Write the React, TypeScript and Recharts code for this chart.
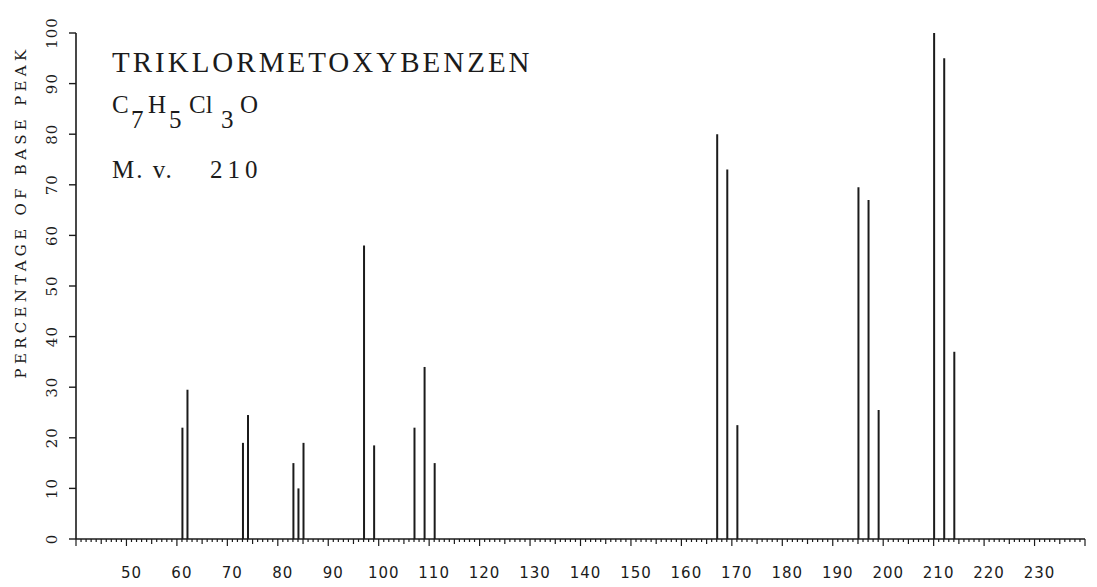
import { BarChart, Bar, XAxis, YAxis } from 'recharts';

// m/z of each peak and its height in % of the base peak
const massNumbers = [61, 62, 73, 74, 83, 84, 85, 97, 99, 107, 109, 111, 167, 169, 171, 195, 197, 199, 210, 212, 214];
const intensities = [22, 29.5, 19, 24.5, 15, 10, 19, 58, 18.5, 22, 34, 15, 80, 73, 22.5, 69.5, 67, 25.5, 100, 95, 37];

const massLabels = [50, 60, 70, 80, 90, 100, 110, 120, 130, 140, 150, 160, 170, 180, 190, 200, 210, 220, 230];
const percentLabels = [0, 10, 20, 30, 40, 50, 60, 70, 80, 90, 100];
// one small tick per mass unit along the bottom axis
const massTicks = Array.from({ length: 201 }, (_, i) => 40 + i);

const compoundName = 'TRIKLORMETOXYBENZEN';
const molWeightLabel = 'M. v.';
const molWeight = '210';
const yTitle = 'PERCENTAGE OF BASE PEAK';
// formula pieces: [text, isSubscript, x]
const formulaParts: [string, boolean, number][] = [
  ['C', false, 112],
  ['7', true, 131],
  ['H', false, 148],
  ['5', true, 169],
  ['Cl', false, 189],
  ['3', true, 221],
  ['O', false, 240],
];

const data = massNumbers.map((m, i) => ({ mass: m, intensity: intensities[i] }));

const INK = '#1b1b1b';
const W = 1097;
const H = 587;

const MassTick = (props: any) => {
  const { x, y, payload } = props;
  const v = payload.value as number;
  const len = v % 10 === 0 ? 7 : v % 5 === 0 ? 5 : 3;
  return (
    <g>
      <line x1={x} y1={y} x2={x} y2={y + len} stroke={INK} strokeWidth={1.2} />
      {massLabels.includes(v) && (
        <text
          x={x + 5}
          y={y + 39}
          textAnchor="middle"
          fill={INK}
          fontFamily="DejaVu Sans"
          fontSize={15}
          letterSpacing={1}
        >
          {v}
        </text>
      )}
    </g>
  );
};

const PercentTick = (props: any) => {
  const { x, y, payload } = props;
  return (
    <g>
      <line x1={x} y1={y} x2={x - 7} y2={y} stroke={INK} strokeWidth={1.4} />
      <text
        transform={`translate(${x - 24}, ${y}) rotate(-90)`}
        textAnchor="middle"
        dy="0.35em"
        fill={INK}
        fontFamily="DejaVu Serif"
        fontSize={15}
        letterSpacing={1}
      >
        {payload.value}
      </text>
    </g>
  );
};

export default function App() {
  return (
    <div style={{ position: 'fixed', left: 0, top: 0, width: W, height: H, background: '#fff' }}>
      <BarChart width={W} height={H} data={data} margin={{ top: 33, right: 12, left: 0, bottom: 0 }}>
        <XAxis
          dataKey="mass"
          type="number"
          domain={[40, 240]}
          ticks={massTicks}
          interval={0}
          tickSize={0}
          tickMargin={0}
          height={48}
          axisLine={{ stroke: INK, strokeWidth: 1.6 }}
          tick={<MassTick />}
          allowDataOverflow
        />
        <YAxis
          type="number"
          domain={[0, 100]}
          ticks={percentLabels}
          interval={0}
          tickSize={0}
          tickMargin={0}
          width={76}
          axisLine={{ stroke: INK, strokeWidth: 1.6 }}
          tick={<PercentTick />}
        />
        <Bar dataKey="intensity" fill={INK} barSize={2} isAnimationActive={false} />
      </BarChart>
      <svg width={W} height={H} style={{ position: 'absolute', left: 0, top: 0, pointerEvents: 'none' }}>
        <text
          transform="translate(26, 212) rotate(-90)"
          textAnchor="middle"
          fill={INK}
          fontFamily="DejaVu Serif"
          fontSize={15}
          letterSpacing={4.3}
        >
          {yTitle}
        </text>
        <g fill={INK} fontFamily="Liberation Serif">
          <text x={112} y={72} fontSize={29} letterSpacing={3}>{compoundName}</text>
          <text fontSize={25}>
            {formulaParts.map(([t, sub, x]) => (
              <tspan key={x} x={x} y={sub ? 128 : 113}>{t}</tspan>
            ))}
          </text>
          <text x={112} y={178} fontSize={25} letterSpacing={2}>
            {molWeightLabel}
            <tspan x={210} letterSpacing={5}>{molWeight}</tspan>
          </text>
        </g>
      </svg>
    </div>
  );
}
